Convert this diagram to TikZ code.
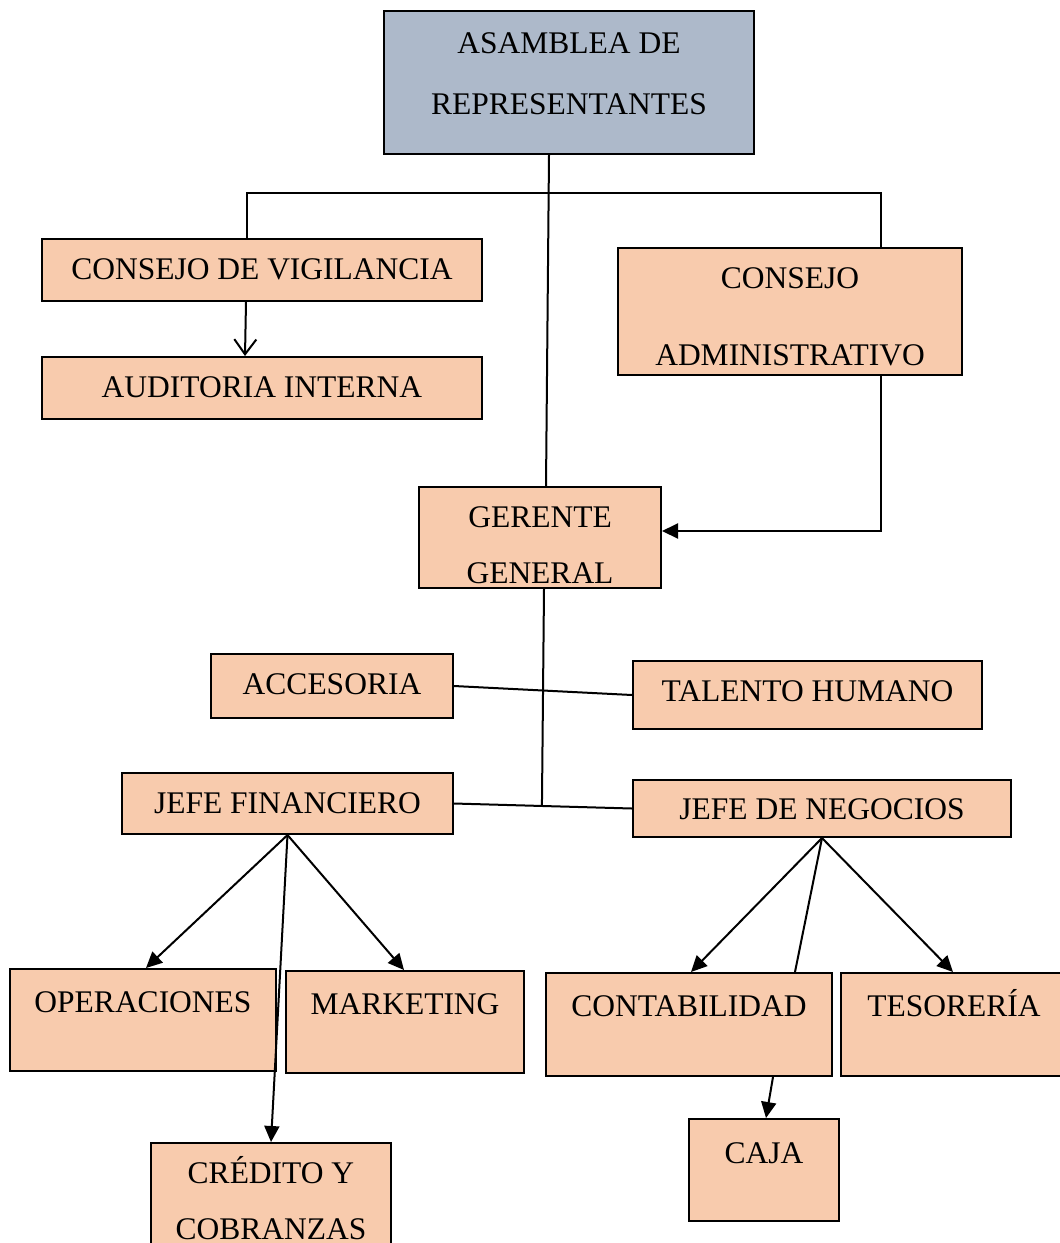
\documentclass[tikz,border=0pt]{standalone}
\usepackage{fontspec}
\setmainfont{Liberation Serif}
\usetikzlibrary{positioning,arrows.meta,calc}
\definecolor{peach}{HTML}{F8CBAD}
\definecolor{slate}{HTML}{ADB9CA}
\tikzset{
  unit/.style={rectangle,draw,fill=peach,line width=2pt,anchor=north west,inner sep=0pt,
    align=center,font=\fontsize{31.5}{38}\selectfont},
  link/.style={draw,line width=2pt},
  tip/.style={link,-{Triangle[length=16pt,width=15pt]}},
  opentip/.style={link,-{Straight Barb[length=15pt,width=22pt,line width=2pt]}},
}

\begin{document}
\begin{tikzpicture}[x=1pt,y=-1pt]
\useasboundingbox (0,0) rectangle (1060,1243);

% top level
\node[unit,fill=slate,minimum width=370pt,minimum height=143pt,text height=103.5pt,text depth=39.5pt] (asam) at (383,10) {ASAMBLEA DE\\[23pt]REPRESENTANTES};

\node[unit,minimum width=440pt,minimum height=62pt,text height=40.5pt,text depth=21.5pt] (vig) at (41,238) {CONSEJO DE VIGILANCIA};
\node[unit,minimum width=440pt,minimum height=62pt,text height=40.5pt,text depth=21.5pt] (aud) at (41,356) {AUDITORIA INTERNA};
\node[unit,minimum width=344pt,minimum height=127pt,text height=117.5pt,text depth=9.5pt] (cadm) at (617,247) {CONSEJO\\[39pt]ADMINISTRATIVO};

\node[unit,minimum width=242pt,minimum height=101pt,text height=96.5pt,text depth=4.5pt] (ger) at (418,486) {GERENTE\\[18pt]GENERAL};

% staff
\node[unit,minimum width=242pt,minimum height=64pt,text height=40.5pt,text depth=23.5pt] (acc) at (210,653) {ACCESORIA};
\node[unit,minimum width=349pt,minimum height=68pt,text height=40.5pt,text depth=27.5pt] (tal) at (632,660) {TALENTO HUMANO};
\node[unit,minimum width=331pt,minimum height=61pt,text height=40.5pt,text depth=20.5pt] (jfin) at (121,772) {JEFE FINANCIERO};
\node[unit,minimum width=378pt,minimum height=57pt,text height=39.5pt,text depth=17.5pt] (jneg) at (632,779) {JEFE DE NEGOCIOS};

% departments
\node[unit,minimum width=266pt,minimum height=102pt,text height=43.5pt,text depth=58.5pt] (oper) at (9,968) {OPERACIONES};
\node[unit,minimum width=238pt,minimum height=102pt,text height=43.5pt,text depth=58.5pt] (mkt) at (285,970) {MARKETING};
\node[unit,minimum width=286pt,minimum height=103pt,text height=43.5pt,text depth=59.5pt] (cont) at (545,972) {CONTABILIDAD};
\node[unit,minimum width=226pt,minimum height=103pt,text height=43.5pt,text depth=59.5pt] (tes) at (840,972) {TESORERÍA};
\node[unit,minimum width=150pt,minimum height=102pt,text height=44.5pt,text depth=57.5pt] (caja) at (688,1118) {CAJA};
\node[unit,minimum width=240pt,minimum height=110pt,text height=96.5pt,text depth=13.5pt] (cred) at (150,1142) {CRÉDITO Y\\[18pt]COBRANZAS};

\coordinate (junc) at ($(jfin.east)!0.494!(jneg.west)$);

% connectors
\path[link] ([xshift=-20pt]asam.south) -- ([xshift=6pt]ger.north);
\path[link] ([xshift=-15pt]vig.north) -- ++(0,-45) -| ([xshift=91pt]cadm.north);
\path[opentip] ([xshift=-16pt]vig.south) -- ([xshift=-17pt]aud.north);
\path[tip] ([xshift=91pt]cadm.south) |- ([yshift=6.5pt]ger.east);
\path[link] ([xshift=4pt]ger.south) -- (junc);
\path[link] (acc.east) -- (tal.west);
\path[link] (jfin.east) -- (jneg.west);

\path[tip] (jfin.south) -- ([xshift=3pt]oper.north);
\path[tip] (jfin.south) -- ([xshift=-1pt]mkt.north);
\path[tip] (jfin.south) -- (cred.north);

\path[tip] (jneg.south) -- ([xshift=2pt]cont.north);
\path[link] (jneg.south) -- ([xshift=106pt]cont.north);
\path[tip] (jneg.south) -- ([xshift=-1pt]tes.north);
\path[tip] ([xshift=84pt]cont.south) -- ([xshift=2pt]caja.north);

\end{tikzpicture}
\end{document}
